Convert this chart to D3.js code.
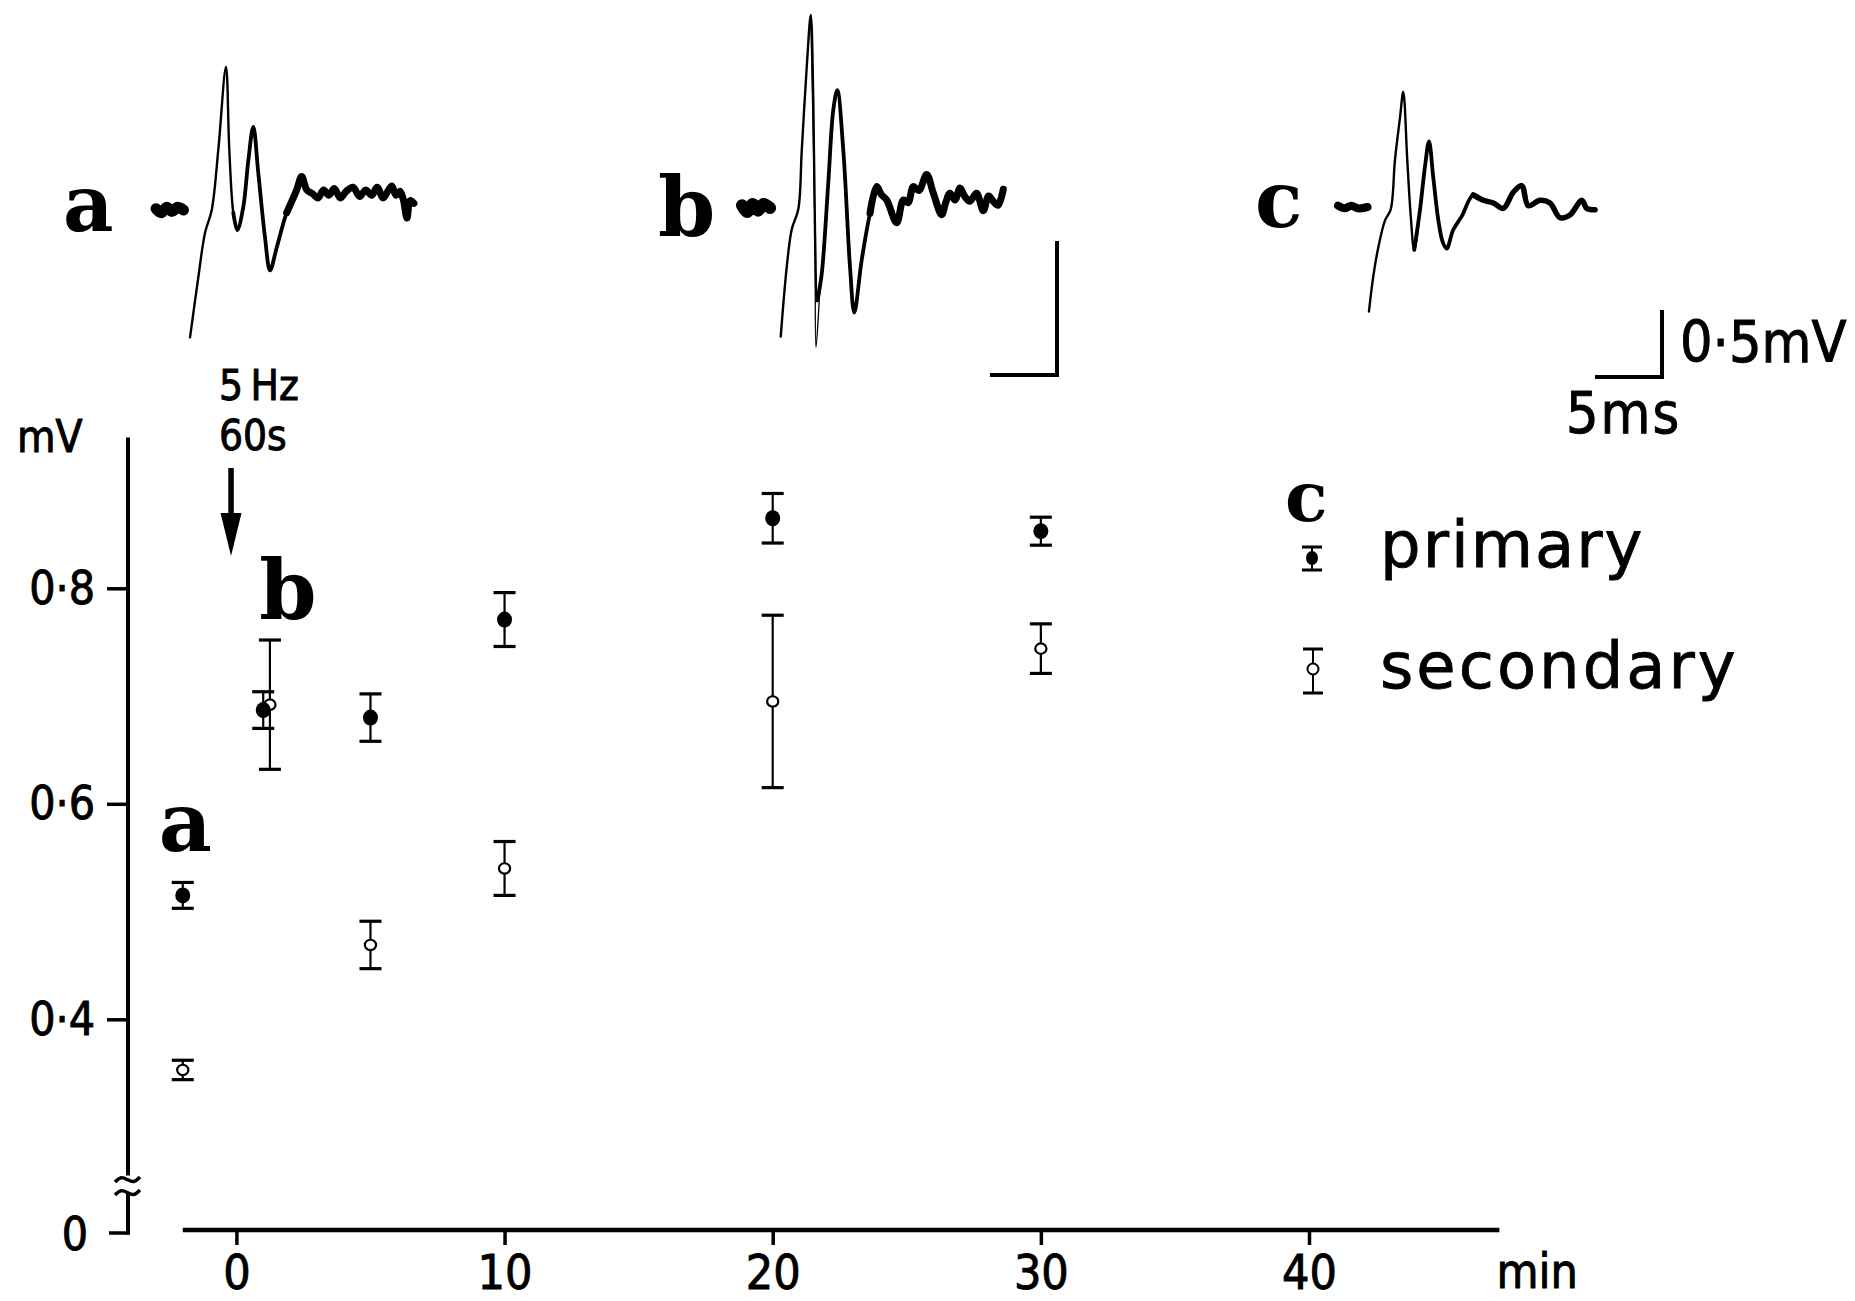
<!DOCTYPE html>
<html>
<head>
<meta charset="utf-8">
<script src="https://cdn.jsdelivr.net/npm/d3@7"></script>
<style>
  html, body { margin: 0; padding: 0; background: #fff; }
  svg { display: block; }
  .lab { font-family: "DejaVu Sans Condensed", "DejaVu Sans", sans-serif; font-stretch: condensed; fill: #000; stroke: #000; stroke-width: 0.9px; }
  .leg { font-family: "DejaVu Sans", sans-serif; fill: #000; stroke: #000; stroke-width: 0.8px; }
  .ser { font-family: "DejaVu Serif", serif; font-weight: bold; fill: #000; }
</style>
</head>
<body>
<svg id="chart" width="1855" height="1301"></svg>
<script>
// ---------- amplitude time course (mean ± s.e., mV) ----------
const primaryTime = [-2, 1, 5, 10, 20, 30];
const primaryMean = [0.515, 0.687, 0.680, 0.771, 0.865, 0.853];
const primarySE   = [0.012, 0.017, 0.022, 0.025, 0.023, 0.013];

const secondaryTime = [-2, 1.25, 5, 10, 20, 30];
const secondaryMean = [0.353, 0.692, 0.469, 0.540, 0.695, 0.744];
const secondarySE   = [0.009, 0.060, 0.022, 0.025, 0.080, 0.023];

const xTickValues = [0, 10, 20, 30, 40];
const yTickValues = [0.4, 0.6, 0.8];

// ---------- field potential sweeps: [ms, mV] ----------
const traceAPre = [[0,0.01],[0.4,-0.02],[0.8,0.02],[1.2,-0.01],[1.6,0.02],[2.05,0.0]];
const traceA = [[2.54,-0.95],[3.16,-0.50],[3.66,-0.17],[4.16,0.00],[4.65,0.45],[5.22,1.07],[5.47,0.45],[5.77,-0.02],
  [6.07,-0.15],[6.51,0.02],[6.89,0.37],[7.26,0.62],[7.63,0.28],[8.13,-0.20],[8.51,-0.45],[9.01,-0.28],[9.75,-0.02],
  [10.50,0.15],[10.87,0.25],[11.25,0.15],[11.70,0.12],[12.10,0.09],[12.50,0.15],[12.90,0.11],[13.30,0.16],[13.75,0.09],
  [14.20,0.14],[14.70,0.17],[15.20,0.10],[15.65,0.15],[16.10,0.11],[16.50,0.17],[16.95,0.09],[17.30,0.14],
  [17.60,0.18],[17.90,0.11],[18.20,0.14],[18.45,0.08],[18.73,-0.06],[18.96,0.07],[19.25,0.05]];

const traceBPre = [[0,0.02],[0.4,-0.03],[0.8,0.03],[1.2,-0.02],[1.6,0.03],[2.1,0.0]];
const traceB = [[2.89,-0.96],[3.34,-0.44],[3.71,-0.16],[4.20,-0.01],[4.46,0.43],[4.83,1.05],[5.13,1.44],[5.32,0.81],
  [5.45,-0.19],[5.62,-0.69],[5.95,-0.49],[6.44,0.19],[6.81,0.73],[7.11,0.88],[7.56,0.43],[8.06,-0.44],[8.38,-0.78],
  [8.93,-0.39],[9.55,-0.04],[10.05,0.16],[10.40,0.10],[10.80,0.06],[11.54,-0.11],[12.04,0.06],[12.40,0.04],[12.78,0.16],
  [13.20,0.13],[13.78,0.25],[14.28,0.11],[14.90,-0.05],[15.20,0.04],[15.52,0.11],[15.90,0.06],[16.27,0.15],[16.60,0.09],
  [17.01,0.05],[17.50,0.11],[18.01,-0.02],[18.40,0.09],[18.75,0.05],[19.10,0.02],[19.50,0.14]];
const traceBAlt = [[5.13,1.44],[5.45,-0.19],[5.52,-1.04],[5.82,-0.61],[6.19,-0.16],[6.44,0.19]];

const traceCPre = [[0,0.01],[0.5,-0.01],[1.0,0.01],[1.5,-0.01],[2.2,0.0]];
const traceC = [[2.31,-0.78],[2.63,-0.52],[3.01,-0.30],[3.51,-0.10],[3.93,-0.02],[4.25,0.35],[4.63,0.67],[4.87,0.86],
  [5.17,0.35],[5.43,-0.07],[5.69,-0.32],[6.12,-0.02],[6.49,0.30],[6.79,0.49],[7.11,0.22],[7.49,-0.10],[7.81,-0.26],
  [8.11,-0.31],[8.60,-0.17],[9.23,-0.07],[10.10,0.09],[10.84,0.05],[11.59,0.03],[12.34,-0.01],[13.08,0.11],[13.71,0.16],
  [14.20,0.01],[15.07,0.05],[15.82,0.03],[16.57,-0.08],[17.31,-0.06],[18.19,0.05],[18.56,-0.01],[19.18,-0.02]];

// ---------- drawing ----------
const svg = d3.select("#chart");

// time-course scales
const x = d3.scaleLinear().domain([0, 40]).range([236.4, 1309]);
const y = d3.scaleLinear().domain([0.4, 0.8]).range([1019.3, 588.3]);
const xAxisY = 1230;
const yAxisX = 128;
const zeroY = 1233;

const fmt = v => d3.format(".1f")(v).replace(".", "\u00B7");

// y axis (broken below 0.25 mV)
const gy = svg.append("g").attr("transform", `translate(${yAxisX},0)`)
  .call(d3.axisLeft(y).tickValues(yTickValues).tickSize(21).tickPadding(12).tickFormat(fmt));
gy.select(".domain").remove();
gy.selectAll(".tick line").attr("stroke", "#000").attr("stroke-width", 3.5);
gy.selectAll(".tick text").attr("class", "lab").attr("font-size", 46).attr("fill", "#000");

svg.append("line").attr("x1", yAxisX).attr("x2", yAxisX)
  .attr("y1", y(0.94)).attr("y2", y(0.255)).attr("stroke", "#000").attr("stroke-width", 4);
// break marks
const brk = d3.line().curve(d3.curveBasis);
[1179, 1192].forEach(by => {
  svg.append("path")
    .attr("d", brk([[115, by + 3], [121, by - 3], [128, by + 1], [134, by + 4], [140, by - 2]]))
    .attr("fill", "none").attr("stroke", "#000").attr("stroke-width", 3.5);
});
svg.append("line").attr("x1", yAxisX).attr("x2", yAxisX).attr("y1", 1193).attr("y2", zeroY + 1.5)
  .attr("stroke", "#000").attr("stroke-width", 4);
svg.append("line").attr("x1", 109).attr("x2", yAxisX + 2).attr("y1", zeroY).attr("y2", zeroY)
  .attr("stroke", "#000").attr("stroke-width", 3.5);
svg.append("text").attr("class", "lab").attr("font-size", 46)
  .attr("x", 88).attr("y", zeroY).attr("dy", "0.36em").attr("text-anchor", "end").text("0");
svg.append("text").attr("class", "lab").attr("font-size", 44)
  .attr("x", 17).attr("y", 452).text("mV");

// x axis
const gx = svg.append("g").attr("transform", `translate(0,${xAxisY})`)
  .call(d3.axisBottom(x).tickValues(xTickValues).tickSize(15).tickPadding(10).tickFormat(d3.format("d")));
gx.select(".domain").remove();
gx.selectAll(".tick line").attr("stroke", "#000").attr("stroke-width", 3.5);
gx.selectAll(".tick text").attr("class", "lab").attr("font-size", 48).attr("fill", "#000");
svg.append("line").attr("x1", x(-2)).attr("x2", x(47.1)).attr("y1", xAxisY).attr("y2", xAxisY)
  .attr("stroke", "#000").attr("stroke-width", 4.5);
svg.append("text").attr("class", "lab").attr("font-size", 48)
  .attr("x", x(47.1) - 3).attr("y", 1288).text("min");

// conditioning stimulus marker
const arrowX = x(-0.2);
svg.append("line").attr("x1", arrowX).attr("x2", arrowX).attr("y1", 468).attr("y2", 520)
  .attr("stroke", "#000").attr("stroke-width", 5.5);
svg.append("path")
  .attr("d", `M${arrowX - 10.5},513 L${arrowX + 10.5},513 L${arrowX},556 Z`).attr("fill", "#000");
svg.append("text").attr("class", "lab").attr("font-size", 42).attr("x", arrowX - 12).attr("y", 400).text("5\u2009Hz");
svg.append("text").attr("class", "lab").attr("font-size", 42).attr("x", arrowX - 12).attr("y", 450).text("60s");

// error-bar series
function drawSeries(times, means, ses, filled) {
  const rows = times.map((t, i) => ({ t, m: means[i], s: ses[i] }));
  const g = svg.append("g");
  const pt = g.selectAll("g").data(rows).enter().append("g");
  pt.append("line")
    .attr("x1", d => x(d.t)).attr("x2", d => x(d.t))
    .attr("y1", d => y(d.m + d.s)).attr("y2", d => y(d.m - d.s))
    .attr("stroke", "#000").attr("stroke-width", 2.2);
  ["+", "-"].forEach(sign => {
    pt.append("line")
      .attr("x1", d => x(d.t) - 11).attr("x2", d => x(d.t) + 11)
      .attr("y1", d => y(sign === "+" ? d.m + d.s : d.m - d.s))
      .attr("y2", d => y(sign === "+" ? d.m + d.s : d.m - d.s))
      .attr("stroke", "#000").attr("stroke-width", 3.2);
  });
  if (filled) {
    pt.append("ellipse").attr("cx", d => x(d.t)).attr("cy", d => y(d.m))
      .attr("rx", 7.5).attr("ry", 8).attr("fill", "#000");
  } else {
    pt.append("ellipse").attr("cx", d => x(d.t)).attr("cy", d => y(d.m))
      .attr("rx", 5.6).attr("ry", 5.2).attr("fill", "#fff").attr("stroke", "#000").attr("stroke-width", 2.2);
  }
}
drawSeries(secondaryTime, secondaryMean, secondarySE, false);
drawSeries(primaryTime, primaryMean, primarySE, true);

// sweep labels inside the plot
svg.append("text").attr("class", "ser").attr("font-size", 82).attr("x", x(-2.9)).attr("y", 851).text("a");
svg.append("text").attr("class", "ser").attr("font-size", 82).attr("x", x(0.85)).attr("y", 619).text("b");

// legend
svg.append("text").attr("class", "ser").attr("font-size", 70).attr("x", 1285).attr("y", 521).text("c");
function legendMark(cx, yTop, yBot, cy, filled) {
  svg.append("line").attr("x1", cx).attr("x2", cx).attr("y1", yTop).attr("y2", yBot)
    .attr("stroke", "#000").attr("stroke-width", 2);
  [yTop, yBot].forEach(v => svg.append("line").attr("x1", cx - 10).attr("x2", cx + 10)
    .attr("y1", v).attr("y2", v).attr("stroke", "#000").attr("stroke-width", 3));
  if (filled) svg.append("ellipse").attr("cx", cx).attr("cy", cy).attr("rx", 6).attr("ry", 7).attr("fill", "#000");
  else svg.append("circle").attr("cx", cx).attr("cy", cy).attr("r", 5.5)
    .attr("fill", "#fff").attr("stroke", "#000").attr("stroke-width", 2);
}
legendMark(1312, 547, 570, 558, true);
legendMark(1313, 649, 693, 669, false);
svg.append("text").attr("class", "leg").attr("font-size", 64).attr("letter-spacing", 2)
  .attr("x", 1380).attr("y", 567).text("primary");
svg.append("text").attr("class", "leg").attr("font-size", 64).attr("letter-spacing", 3)
  .attr("x", 1380).attr("y", 688).text("secondary");

// ---------- field potential insets ----------
const ms = d3.scaleLinear().domain([0, 5]).range([0, 67]);
const mv = d3.scaleLinear().domain([0, 0.5]).range([0, -67]);

// superimposed sweeps: thin stimulus artefact, heavier late components
function drawTrace(ox, oy, pre, main, alt, preWidth, tailWidth) {
  const line = d3.line().x(d => ox + ms(d[0])).y(d => oy + mv(d[1])).curve(d3.curveCatmullRom.alpha(0.5));
  const g = svg.append("g").attr("fill", "none").attr("stroke", "#000")
    .attr("stroke-linejoin", "round").attr("stroke-linecap", "round");
  g.append("path").attr("d", line(pre)).attr("stroke-width", preWidth);
  g.append("path").attr("d", line(main)).attr("stroke-width", 2.4);
  g.append("path").attr("d", line(main.filter(d => d[0] > 5.6))).attr("stroke-width", 3.8);
  g.append("path").attr("d", line(main.filter(d => d[0] > 9.4))).attr("stroke-width", tailWidth);
  if (alt) g.append("path").attr("d", line(alt)).attr("stroke-width", 1.3);
}
drawTrace(156, 210, traceAPre, traceA, null, 11, 7);
drawTrace(742, 208, traceBPre, traceB, traceBAlt, 12, 7);
drawTrace(1338, 207, traceCPre, traceC, null, 8, 5.5);

svg.append("text").attr("class", "ser").attr("font-size", 78).attr("x", 63).attr("y", 231).text("a");
svg.append("text").attr("class", "ser").attr("font-size", 82).attr("x", 658).attr("y", 236).text("b");
svg.append("text").attr("class", "ser").attr("font-size", 78).attr("x", 1255).attr("y", 227).text("c");

// calibration bars
function calBar(cx, cy, tms, amp) {
  svg.append("path")
    .attr("d", `M${cx + ms(-tms)},${cy} L${cx},${cy} L${cx},${cy + mv(amp)}`)
    .attr("fill", "none").attr("stroke", "#000").attr("stroke-width", 4);
}
calBar(1057, 375, 5, 1.0);
calBar(1662, 377, 5, 0.5);
svg.append("text").attr("class", "lab").attr("font-size", 57).attr("x", 1680).attr("y", 362).text("0\u00B75mV");
svg.append("text").attr("class", "lab").attr("font-size", 57).attr("letter-spacing", 2)
  .attr("x", 1566).attr("y", 433).text("5ms");
</script>
</body>
</html>
